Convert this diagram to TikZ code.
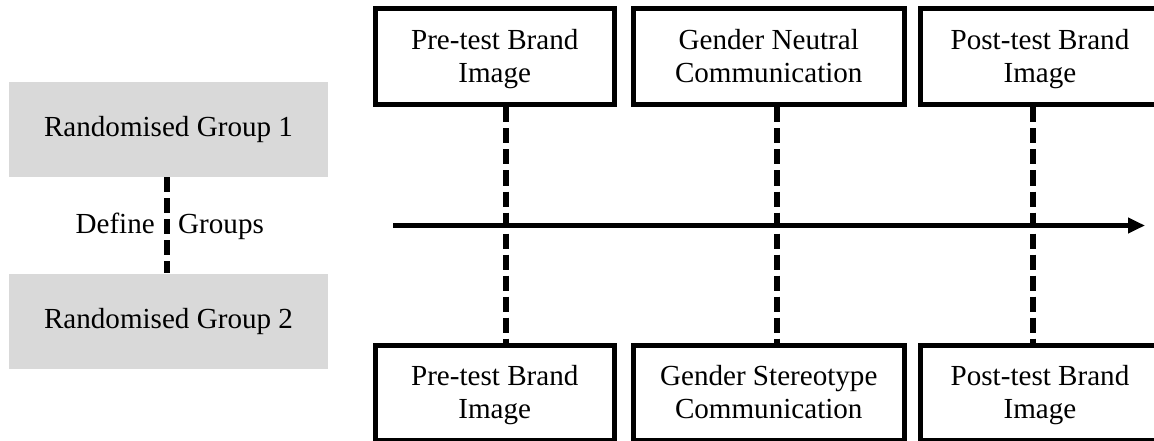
\documentclass[tikz,border=0pt]{standalone}
\usepackage{fontspec}
\setmainfont{Liberation Serif}
\usetikzlibrary{arrows.meta}
\definecolor{boxgrey}{HTML}{D9D9D9}
\newcommand\lnstrut{\rule[-6pt]{0pt}{30pt}}
\begin{document}
\begin{tikzpicture}[x=1pt,y=-1pt,
  every node/.style={font=\fontsize{29.1}{33}\selectfont},
  stagebox/.style={draw=black, line width=5pt, fill=white, align=center, inner sep=0pt},
  groupbox/.style={fill=boxgrey, align=center, minimum width=319pt, minimum height=95pt, inner sep=0pt},
  dashline/.style={line width=5.5pt, dash pattern=on 15pt off 6pt},
  timeline/.style={line width=5pt, -{Triangle[length=17pt,width=15pt]}}
]
\useasboundingbox (0,0) rectangle (1154,441);
\clip (0,0) rectangle (1154,441);

% groups
\node[groupbox] (g1) at (168.5,129.5) {Randomised Group 1};
\node[groupbox] (g2) at (168.5,321) {Randomised Group 2};
\draw[dashline] ([xshift=-1.5pt]g1.south) -- ([xshift=-1.5pt]g2.north);
\node[inner sep=0pt, anchor=base east] (def) at (155,233) {Define};
\node[inner sep=0pt, anchor=base west] (grp) at (178,233) {Groups};

% stage boxes
\node[stagebox, minimum width=239.5pt, minimum height=96pt] (t1) at (494.75,57) {\lnstrut Pre-test Brand\\\lnstrut Image};
\node[stagebox, minimum width=271.5pt, minimum height=96pt] (t2) at (768.75,57) {\lnstrut Gender Neutral\\\lnstrut Communication};
\node[stagebox, minimum width=239.5pt, minimum height=96pt] (t3) at (1040,57) {\lnstrut Post-test Brand\\\lnstrut Image};
\node[stagebox, minimum width=239.5pt, minimum height=95pt] (b1) at (494.75,393) {\lnstrut Pre-test Brand\\\lnstrut Image};
\node[stagebox, minimum width=271.5pt, minimum height=95pt] (b2) at (768.75,393) {\lnstrut Gender Stereotype\\\lnstrut Communication};
\node[stagebox, minimum width=239.5pt, minimum height=95pt] (b3) at (1040,393) {\lnstrut Post-test Brand\\\lnstrut Image};

% dashed links
\draw[dashline] ([xshift=11.25pt]t1.south) -- ([xshift=11.25pt]b1.north);
\draw[dashline] ([xshift=8.25pt]t2.south) -- ([xshift=8.25pt]b2.north);
\draw[dashline] ([xshift=-7pt]t3.south) -- ([xshift=-7pt]b3.north);

% timeline arrow
\coordinate (as) at (393,225.5);
\coordinate (ae) at (1145,225.5);
\draw[timeline] (as) -- (ae);
\end{tikzpicture}
\end{document}
